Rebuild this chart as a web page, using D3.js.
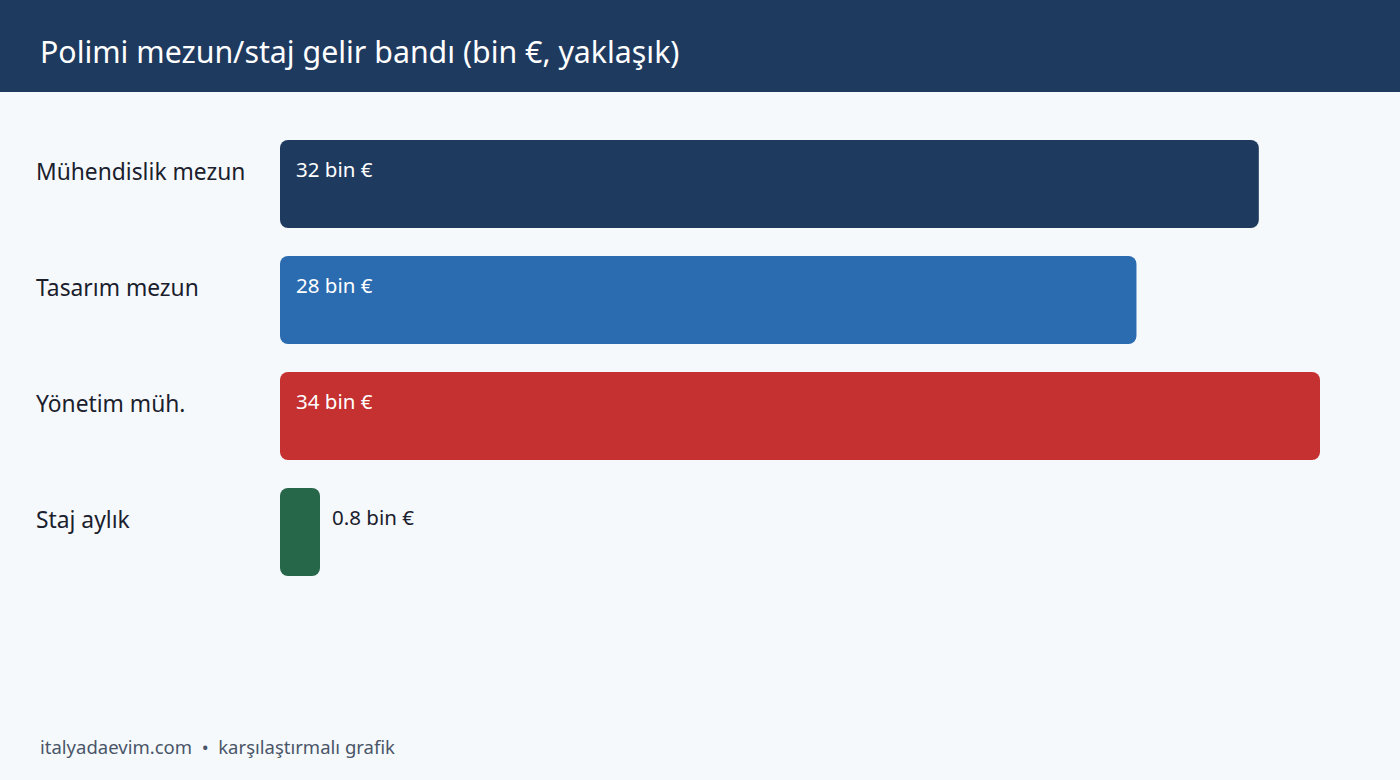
<!DOCTYPE html>
<html>
<head>
<meta charset="utf-8">
<script src="https://cdn.jsdelivr.net/npm/d3@7"></script>
<style>
  body { margin: 0; background: #f5f9fc; }
  svg { display: block; font-family: "Noto Sans", "Open Sans", sans-serif; }
</style>
</head>
<body>
<div id="chart"></div>
<script>
// Data
const categories = ['Mühendislik mezun', 'Tasarım mezun', 'Yönetim müh.', 'Staj aylık'];
const values = [32, 28, 34, 0.8];
const valueLabels = ['32 bin €', '28 bin €', '34 bin €', '0.8 bin €'];
const colors = ['#1f3a5f', '#2b6cb0', '#c53030', '#276749'];

const titleText = 'Polimi mezun/staj gelir bandı (bin €, yaklaşık)';
const footerText = 'italyadaevim.com  •  karşılaştırmalı grafik';

let width = 1400, height = 780;
let margin = { top: 140, left: 280, right: 80 };
let barH = 88, step = 116, minW = 40;

let svg = d3.select('#chart')
            .append('svg')
            .attr('width', width)
            .attr('height', height)
            .style('background', '#f5f9fc');

// header band
svg.append('rect')
   .attr('x', 0).attr('y', 0)
   .attr('width', width).attr('height', 92)
   .attr('fill', '#1f3a5f');

svg.append('text')
   .attr('x', 40).attr('y', 63)
   .attr('fill', '#ffffff')
   .style('font-size', '30.3px')
   .text(titleText);

// scales
let xscale = d3.scaleLinear()
               .domain([0, d3.max(values)])
               .range([margin.left, width - margin.right]);

let yscale = d3.scaleBand()
               .domain(categories)
               .range([margin.top, margin.top + step * (categories.length - 1) + barH])
               .paddingInner((step - barH) / step)
               .paddingOuter(0);

let data = categories.map((c, i) => ({ cat: c, v: values[i], label: valueLabels[i], color: colors[i] }));

let row = svg.selectAll('.row')
             .data(data)
             .enter()
             .append('g')
             .attr('class', 'row')
             .attr('transform', d => `translate(0, ${yscale(d.cat)})`);

let barWidth = d => Math.max(minW, xscale(d.v) - xscale(0));

row.append('rect')
   .attr('x', xscale(0))
   .attr('y', 0)
   .attr('width', barWidth)
   .attr('height', yscale.bandwidth())
   .attr('rx', 8)
   .attr('fill', d => d.color);

// category labels
row.append('text')
   .attr('x', 36)
   .attr('y', 40)
   .attr('fill', '#1a202c')
   .style('font-size', '22.8px')
   .text(d => d.cat);

// value labels: inside when wide enough, otherwise to the right
row.append('text')
   .attr('x', d => barWidth(d) > 120 ? xscale(0) + 16 : xscale(0) + barWidth(d) + 12)
   .attr('y', 37)
   .attr('fill', d => barWidth(d) > 120 ? '#ffffff' : '#1a202c')
   .style('font-size', '20.5px')
   .text(d => d.label);

// footer
svg.append('text')
   .attr('x', 40).attr('y', 754)
   .attr('fill', '#4a5568')
   .style('font-size', '18.5px')
   .style('white-space', 'pre')
   .text(footerText);
</script>
</body>
</html>
